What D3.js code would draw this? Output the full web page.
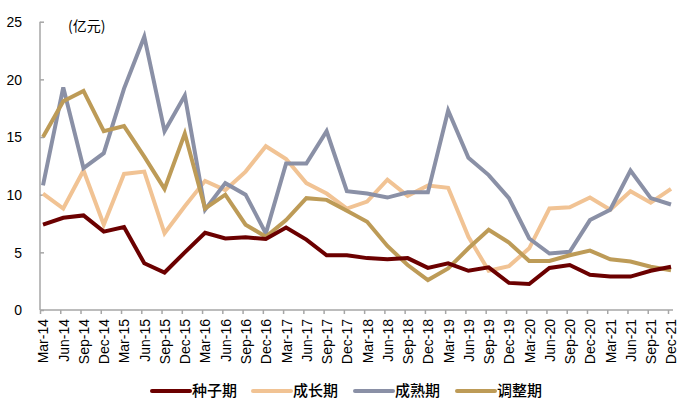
<!DOCTYPE html>
<html><head><meta charset="utf-8">
<script src="https://cdn.jsdelivr.net/npm/d3@7"></script>
<style>
body{margin:0;background:#fff;}
svg text{font-family:"Liberation Sans",Arial,sans-serif;}
</style></head>
<body><svg id="c" width="700" height="416"></svg>
<script>
const categories = ["Mar-14","Jun-14","Sep-14","Dec-14","Mar-15","Jun-15","Sep-15","Dec-15","Mar-16","Jun-16","Sep-16","Dec-16","Mar-17","Jun-17","Sep-17","Dec-17","Mar-18","Jun-18","Sep-18","Dec-18","Mar-19","Jun-19","Sep-19","Dec-19","Mar-20","Jun-20","Sep-20","Dec-20","Mar-21","Jun-21","Sep-21","Dec-21"];
const seedStage   = [7.4,8.0,8.2,6.8,7.2,4.05,3.25,5.0,6.7,6.2,6.3,6.15,7.15,6.1,4.75,4.75,4.5,4.4,4.5,3.65,4.05,3.4,3.7,2.35,2.25,3.65,3.9,3.05,2.9,2.9,3.4,3.75];
const growthStage = [10.1,8.8,12.1,7.4,11.8,12.0,6.65,9.0,11.2,10.4,12.0,14.2,13.1,11.0,10.1,8.8,9.4,11.3,9.9,10.8,10.6,6.35,3.4,3.8,5.35,8.8,8.9,9.75,8.7,10.3,9.3,10.5];
const matureStage = [10.8,19.3,12.3,13.6,19.2,23.7,15.5,18.6,8.7,11.0,10.0,6.65,12.7,12.7,15.5,10.3,10.1,9.75,10.2,10.2,17.3,13.2,11.7,9.7,6.2,4.9,5.05,7.8,8.7,12.1,9.7,9.15];
const adjustStage = [15.0,18.1,19.0,15.5,15.95,13.3,10.5,15.3,8.8,10.0,7.4,6.35,7.8,9.7,9.55,8.6,7.65,5.55,3.9,2.6,3.6,5.35,6.95,5.85,4.25,4.25,4.75,5.15,4.4,4.2,3.75,3.45];
const seriesNames = ["种子期","成长期","成熟期","调整期"];
const seriesColors = ["#6b0000","#f1c394","#8a90a6","#bd9b57"];
const yTicks = [0,5,10,15,20,25];
const unitLabel = "(亿元)";

const svg = d3.select("#c");
const x = d3.scalePoint().domain(categories).range([43, 671]);
const y = d3.scaleLinear().domain([0,25]).range([310, 21.7]);

// y axis
const ya = svg.append("g").attr("transform","translate(40,0)")
  .call(d3.axisRight(y).tickValues(yTicks).tickSize(4).tickFormat(d3.format("d")));
ya.select(".domain").attr("stroke","#a6a6a6").attr("stroke-width",1.5).attr("d","M0,"+y(25)+"V"+y(0));
ya.selectAll(".tick line").attr("stroke","#a6a6a6").attr("stroke-width",1.5);
ya.selectAll(".tick text").attr("x",-18).attr("text-anchor","end").attr("dy","0.35em")
  .attr("font-size","14px").attr("fill","#000");

// x axis
const xa = svg.append("g").attr("transform","translate(0,310)")
  .call(d3.axisBottom(x).tickSize(4));
xa.select(".domain").attr("stroke","#a6a6a6").attr("stroke-width",1.5).attr("d","M40,0H673");
xa.selectAll(".tick line").attr("stroke","#a6a6a6").attr("stroke-width",1.5).attr("transform","translate(-3,0)");
xa.selectAll(".tick text").attr("transform","rotate(-90)").attr("text-anchor","end")
  .attr("x",-9).attr("y",0).attr("dy","0.35em").attr("font-size","14px").attr("fill","#000");

svg.append("text").attr("x",68).attr("y",31).attr("font-size","14px").attr("fill","#000")
  .style("font-family","'Noto Sans CJK SC',sans-serif").text(unitLabel);

const data = [seedStage, growthStage, matureStage, adjustStage];
const line = d3.line().x((d,i)=>x(categories[i])).y(d=>y(d));
const order = [1,2,3,0];
order.forEach(k=>{
  svg.append("path").datum(data[k]).attr("d",line).attr("fill","none")
    .attr("stroke",seriesColors[k]).attr("stroke-width",4).attr("stroke-linejoin","miter");
});

// legend
const legX = [152,253,355,457];
seriesNames.forEach((n,i)=>{
  const g = svg.append("g").attr("transform","translate("+legX[i]+",391)");
  g.append("line").attr("x1",0).attr("x2",38).attr("y1",0).attr("y2",0)
    .attr("stroke",seriesColors[i]).attr("stroke-width",4).attr("stroke-linecap","round");
  g.append("text").attr("x",40).attr("y",0).attr("dy","0.36em").attr("font-size","15px")
    .attr("font-weight",500)
    .attr("fill","#000").style("font-family","'Noto Sans CJK SC',sans-serif").text(n);
});
</script></body></html>
